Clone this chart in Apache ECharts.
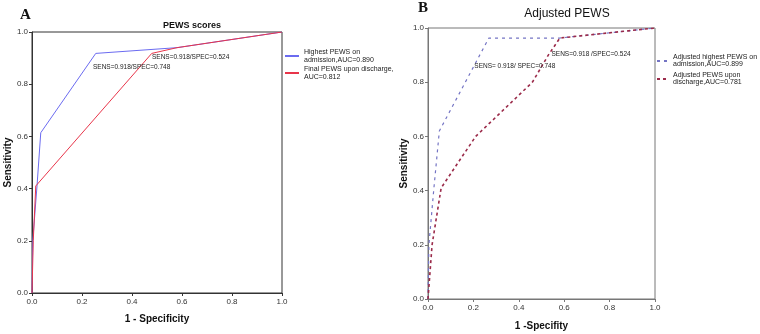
<!DOCTYPE html>
<html>
<head>
<meta charset="utf-8">
<script src="https://cdn.jsdelivr.net/npm/echarts@6/dist/echarts.min.js"></script>
<style>
html,body{margin:0;padding:0;background:#fff;}
#main{width:760px;height:334px;}
</style>
</head>
<body>
<div id="main"></div>
<script>
// 刻度
var ticks = [0, 0.2, 0.4, 0.6, 0.8, 1.0];

// A：PEWS scores  [1-特异度, 灵敏度]
var highestPews = [[0, 0], [0.003, 0.2], [0.02, 0.41], [0.035, 0.614], [0.255, 0.918], [0.58, 0.94], [1, 1]];
var finalPews = [[0, 0], [0.005, 0.2], [0.015, 0.41], [0.479, 0.918], [0.58, 0.94], [1, 1]];

// B：Adjusted PEWS
var adjHighest = [[0, 0], [0.004, 0.2], [0.025, 0.4], [0.05, 0.62], [0.268, 0.963], [0.581, 0.963], [1, 1]];
var adjDischarge = [[0, 0], [0.018, 0.2], [0.058, 0.41], [0.21, 0.6], [0.46, 0.8], [0.53, 0.9], [0.581, 0.963], [1, 1]];

// 标注文字 [x, y, 文字]
var notesA = [[0.48, 0.905, 'SENS=0.918/SPEC=0.524'], [0.244, 0.866, 'SENS=0.918/SPEC=0.748']];
var notesB = [[0.544, 0.905, 'SENS=0.918 /SPEC=0.524'], [0.204, 0.86, 'SENS= 0.918/ SPEC=0.748']];

var myChart = echarts.init(document.getElementById('main'));

var font = 'Liberation Sans, Arial, sans-serif';

function xAxisOf(idx, name, lineColor, gap) {
    return {
        type: 'value', gridIndex: idx, min: 0, max: 1, interval: 0.2,
        name: name, nameLocation: 'middle', nameGap: gap,
        nameTextStyle: {fontFamily: font, fontSize: 10, fontWeight: 'bold', color: '#111'},
        axisLine: {show: true, lineStyle: {color: lineColor, width: 1}},
        axisTick: {show: true, length: 3, lineStyle: {color: lineColor}},
        axisLabel: {fontFamily: font, fontSize: 8, color: '#333', margin: 5,
            formatter: function (v) { return v.toFixed(1); }},
        splitLine: {show: false}
    };
}

function yAxisOf(idx, lineColor) {
    return {
        type: 'value', gridIndex: idx, min: 0, max: 1, interval: 0.2,
        name: 'Sensitivity', nameLocation: 'middle', nameGap: 18,
        nameTextStyle: {fontFamily: font, fontSize: 10, fontWeight: 'bold', color: '#111'},
        axisLine: {show: true, lineStyle: {color: lineColor, width: 1}},
        axisTick: {show: true, length: 3, lineStyle: {color: lineColor}},
        axisLabel: {fontFamily: font, fontSize: 8, color: '#333', margin: 4,
            formatter: function (v) { return v.toFixed(1); }},
        splitLine: {show: false}
    };
}

// 把标注做成 markPoint，位置用数据坐标
function notePoints(notes) {
    return {
        symbol: 'circle', symbolSize: 0, silent: true,
        label: {show: true, position: 'right', distance: 0, fontFamily: font, fontSize: 6.5, color: '#222',
            formatter: function (p) { return p.name; }},
        data: notes.map(function (n) { return {name: n[2], coord: [n[0], n[1]]}; })
    };
}

var option = {
    animation: false,
    title: [
        {text: 'PEWS scores', left: 187, top: 16, textAlign: 'center',
            textStyle: {fontFamily: font, fontSize: 9, fontWeight: 'bold', color: '#111'}},
        {text: 'Adjusted PEWS', left: 562, top: 3, textAlign: 'center',
            textStyle: {fontFamily: font, fontSize: 12, fontWeight: 'normal', color: '#111'}}
    ],
    graphic: [
        {type: 'text', left: 20, top: 8, style: {text: 'A', font: 'bold 15px "Liberation Serif", serif', fill: '#111'}},
        {type: 'text', left: 418, top: 1, style: {text: 'B', font: 'bold 15px "Liberation Serif", serif', fill: '#111'}}
    ],
    legend: [
        {
            left: 284, top: 48, padding: 0, orient: 'vertical', itemGap: 1, itemWidth: 14, itemHeight: 8,
            itemStyle: {opacity: 0},
            textStyle: {fontFamily: font, fontSize: 7, color: '#222', lineHeight: 8},
            data: ['Highest PEWS on\nadmission,AUC=0.890', 'Final PEWS upon discharge,\nAUC=0.812']
        },
        {
            left: 656, top: 54, padding: 0, orient: 'vertical', itemGap: 4, itemWidth: 11, itemHeight: 8,
            itemStyle: {opacity: 0},
            textStyle: {fontFamily: font, fontSize: 7, color: '#222', lineHeight: 7},
            data: ['Adjusted highest PEWS on\nadmission,AUC=0.899', 'Adjusted PEWS upon\ndischarge,AUC=0.781']
        }
    ],
    grid: [
        {left: 32, top: 32, width: 250, height: 261, outerBoundsMode: 'none',
            show: true, borderColor: '#333', borderWidth: 1, backgroundColor: 'transparent'},
        {left: 428, top: 28, width: 227, height: 271, outerBoundsMode: 'none',
            show: true, borderColor: '#777', borderWidth: 1, backgroundColor: 'transparent'}
    ],
    xAxis: [xAxisOf(0, '1 - Specificity', '#333', 21), xAxisOf(1, '1 -Specifity', '#777', 22)],
    yAxis: [yAxisOf(0, '#333'), yAxisOf(1, '#777')],
    series: [
        {
            name: 'Highest PEWS on\nadmission,AUC=0.890', type: 'line', xAxisIndex: 0, yAxisIndex: 0,
            data: highestPews, symbol: 'none', lineStyle: {color: '#6b6bf0', width: 1}, itemStyle: {color: '#6b6bf0'},
            markPoint: notePoints(notesA)
        },
        {
            name: 'Final PEWS upon discharge,\nAUC=0.812', type: 'line', xAxisIndex: 0, yAxisIndex: 0,
            data: finalPews, symbol: 'none', lineStyle: {color: '#e8354a', width: 1}, itemStyle: {color: '#e8354a'}
        },
        {
            name: 'Adjusted highest PEWS on\nadmission,AUC=0.899', type: 'line', xAxisIndex: 1, yAxisIndex: 1,
            data: adjHighest, symbol: 'none',
            lineStyle: {color: '#7474c4', width: 1.2, type: [3, 4]}, itemStyle: {color: '#7474c4'},
            markPoint: notePoints(notesB)
        },
        {
            name: 'Adjusted PEWS upon\ndischarge,AUC=0.781', type: 'line', xAxisIndex: 1, yAxisIndex: 1,
            data: adjDischarge, symbol: 'none',
            lineStyle: {color: '#9b2b4a', width: 1.6, type: [3, 3]}, itemStyle: {color: '#9b2b4a'}
        }
    ]
};

myChart.setOption(option);
</script>
</body>
</html>
